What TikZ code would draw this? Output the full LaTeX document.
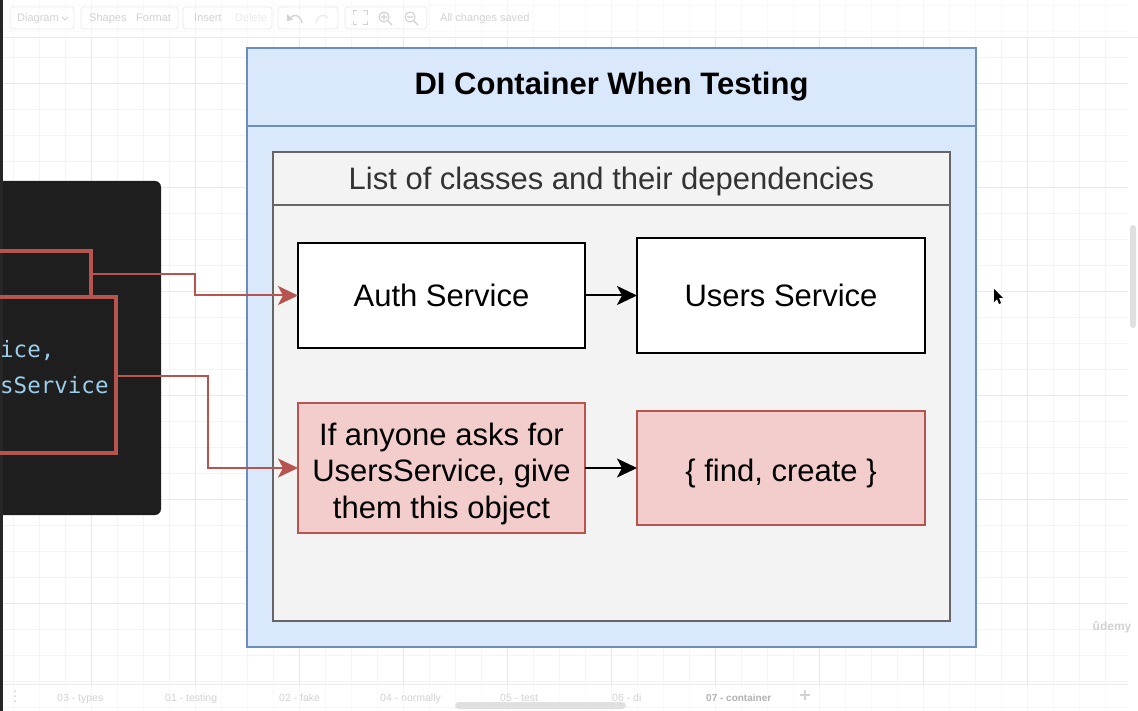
\documentclass[tikz,border=0pt]{standalone}
\usepackage{fontspec}
\setmainfont{Liberation Sans}
\newfontfamily\codefont{DejaVu Sans Mono}
\usetikzlibrary{arrows.meta}
\definecolor{blueF}{HTML}{DAE8FC}
\definecolor{blueS}{HTML}{6C8EBF}
\definecolor{grayF}{HTML}{F3F3F3}
\definecolor{grayS}{HTML}{666666}
\definecolor{redF}{HTML}{F2CDCB}
\definecolor{redS}{HTML}{B85450}
\definecolor{panel}{HTML}{1E1E1E}
\definecolor{codeblue}{HTML}{9CCDEB}
\definecolor{gridminor}{HTML}{F4F4F4}
\definecolor{gridmajor}{HTML}{E9E9E9}
\definecolor{uitext}{HTML}{D2D2D2}
\definecolor{uiline}{HTML}{EBEBEB}
\tikzset{
  bigfont/.style={font=\fontsize{31}{36.5}\selectfont},
  nbox/.style={draw, line width=2pt, inner sep=0pt, outer sep=0pt, anchor=north west, align=center, bigfont},
  plainbox/.style={nbox, fill=white, draw=black},
  redbox/.style={nbox, fill=redF, draw=redS},
  bluebox/.style={nbox, fill=blueF, draw=blueS},
  graybox/.style={nbox, fill=grayF, draw=grayS, line width=2.5pt, text=black!80},
  blackarrow/.style={draw=black, line width=2pt, -{Stealth[length=20pt,width=19pt,inset=5pt]}},
  redarrow/.style={draw=redS, line width=2pt, -{Stealth[length=20pt,width=19pt,inset=5pt]}},
  redframe/.style={draw=redS, line width=4pt},
  codetext/.style={font=\codefont\fontsize{22.5}{36}\selectfont, text=codeblue, inner sep=0pt},
  uilabel/.style={font=\fontsize{11}{13}\selectfont, text=uitext, inner sep=0pt, anchor=base west},
  tablabel/.style={font=\fontsize{10.5}{12}\selectfont, text=uitext, inner sep=0pt, anchor=base west},
  uigroup/.style={draw=uiline, line width=0.8pt, rounded corners=3pt},
}
\begin{document}
\begin{tikzpicture}[x=1pt,y=-1pt]
\useasboundingbox (0,0) rectangle (1138,711);
\fill[white] (0,0) rectangle (1138,711);
% grid
\foreach \i in {0,...,44} \draw[gridminor, line width=0.8pt] ({-13+26*\i},0) -- ({-13+26*\i},711);
\foreach \i in {0,...,27} \draw[gridminor, line width=0.8pt] (0,{-21+26*\i}) -- (1138,{-21+26*\i});
\foreach \i in {1,...,11} \draw[gridmajor, line width=0.9pt] ({-13+104*\i},0) -- ({-13+104*\i},711);
\foreach \i in {1,...,7} \draw[gridmajor, line width=0.9pt] (0,{-21+104*\i}) -- (1138,{-21+104*\i});
% right scrollbar
\fill[white] (1128,0) rectangle (1138,711);
\fill[black!12, rounded corners=3pt] (1130,225) rectangle (1136,328);
% toolbar
\fill[white, opacity=0.6] (0,0) rectangle (1138,37);
\draw[uiline] (0,37) -- (1138,37);
\draw[uigroup] (10,7) rectangle (74,29);
\draw[uigroup] (81,7) rectangle (178,29);
\draw[uigroup] (183,7) rectangle (272,29);
\draw[uigroup] (278,7) rectangle (338,29);
\draw[uigroup] (345,7) rectangle (427,29);
\node[uilabel] (tDiagram) at (17,22) {Diagram};
\draw[uitext, line width=0.8pt] (62,17) -- (65,20) -- (68,17);
\node[uilabel] (tShapes) at (89,22) {Shapes};
\node[uilabel] (tFormat) at (136,22) {Format};
\node[uilabel] (tInsert) at (194,22) {Insert};
\node[uilabel, text=black!8] (tDelete) at (235,22) {Delete};
\draw[uitext, line width=1.3pt] (302,23) .. controls (300,14) and (294,14) .. (290,18);
\fill[uitext] (287,14) -- (287,21) -- (293,20) -- cycle;
\draw[black!8, line width=1.3pt] (316,23) .. controls (318,14) and (324,14) .. (328,18);
\draw[uitext, line width=1pt] (353,15) -- (353,11) -- (357,11) (363,11) -- (367,11) -- (367,15) (367,21) -- (367,25) -- (363,25) (357,25) -- (353,25) -- (353,21);
\draw[uitext, line width=1.1pt] (384,17) circle (5) (388,21) -- (392,25) (381,17) -- (387,17) (384,14) -- (384,20);
\draw[uitext, line width=1.1pt] (410,17) circle (5) (414,21) -- (418,25) (407,17) -- (413,17);
\node[uilabel] (tSaved) at (440,22) {All changes saved};
% bottom tab bar
\fill[white, opacity=0.6] (0,684) rectangle (1128,711);
\draw[uiline] (0,684) -- (1128,684);
\foreach \yy in {691,696,701} \fill[uitext] (15,\yy) circle (1);
\node[tablabel] (tab1) at (57,701) {03 - types};
\node[tablabel] (tab2) at (165,701) {01 - testing};
\node[tablabel] (tab3) at (279,701) {02 - fake};
\node[tablabel] (tab4) at (380,701) {04 - normally};
\node[tablabel] (tab5) at (500,701) {05 - test};
\node[tablabel] (tab6) at (612,701) {06 - di};
\node[tablabel, font=\bfseries\fontsize{10}{12}\selectfont, text=black!30] (tab7) at (706,701) {07 - container};
\draw[uitext, line width=1.3pt] (800,695) -- (810,695) (805,690) -- (805,700);
\fill[black!12, rounded corners=4pt] (455,702) rectangle (626,709);
% left screen edge
\fill[black!85] (0,0) rectangle (2.5,711);
% dark code panel
\fill[panel, rounded corners=6pt] (-10,181) rectangle (161,515);
\fill[black!85] (0,181) rectangle (2.5,515);
\node[codetext, anchor=base west] (code1) at (0,358) {ice,};
\node[codetext, anchor=base west] (code2) at (0,393) {sService};
\draw[redframe] (-5,251) -- (91,251) -- (91,297);
\draw[redframe] (-5,297) -- (116,297) -- (116,453) -- (-5,453);
\coordinate (c1) at (93,274);
\coordinate (c2) at (118,376);
% blue container
\node[bluebox, minimum width=729pt, minimum height=78pt, font=\bfseries\fontsize{31}{36}\selectfont] (title) at (247,48) {DI Container When Testing};
\node[bluebox, minimum width=729pt, minimum height=521pt] (outerbody) at (247,126) {};
% gray container
\node[graybox, minimum width=677pt, minimum height=53pt, text depth=0pt] (listhead) at (273,152) {List of classes and their dependencies};
\node[graybox, minimum width=677pt, minimum height=416pt] (listbody) at (273,205) {};
% boxes
\node[plainbox, minimum width=287pt, minimum height=105pt] (auth) at (298,243) {Auth Service};
\node[plainbox, minimum width=288pt, minimum height=115pt] (users) at (637,238) {Users Service};
\node[redbox, minimum width=287pt, minimum height=130pt, text height=100pt, text depth=0pt] (fake) at (298,403) {If anyone asks for\\UsersService, give\\them this object};
\node[redbox, minimum width=288pt, minimum height=114pt, text height=26pt, text depth=0pt] (obj) at (637,411) {\{ find, create \}};
% connectors
\draw[blackarrow] (auth.east) -- (users.west);
\draw[blackarrow] (fake.east) -- (obj.west);
\draw[redarrow] (c1) -- (195,274) |- (auth.west);
\draw[redarrow] (c2) -- (208,376) |- (fake.west);
% cursor
\fill[black] (994,289) -- (994,302) -- (997,299) -- (999,304) -- (1001,303) -- (999,298) -- (1003,298) -- cycle;
% watermark
\node[font=\bfseries\fontsize{12}{14}\selectfont, text=black!18, inner sep=0pt] (udemy) at (1112,627) {ûdemy};
\end{tikzpicture}
\end{document}
